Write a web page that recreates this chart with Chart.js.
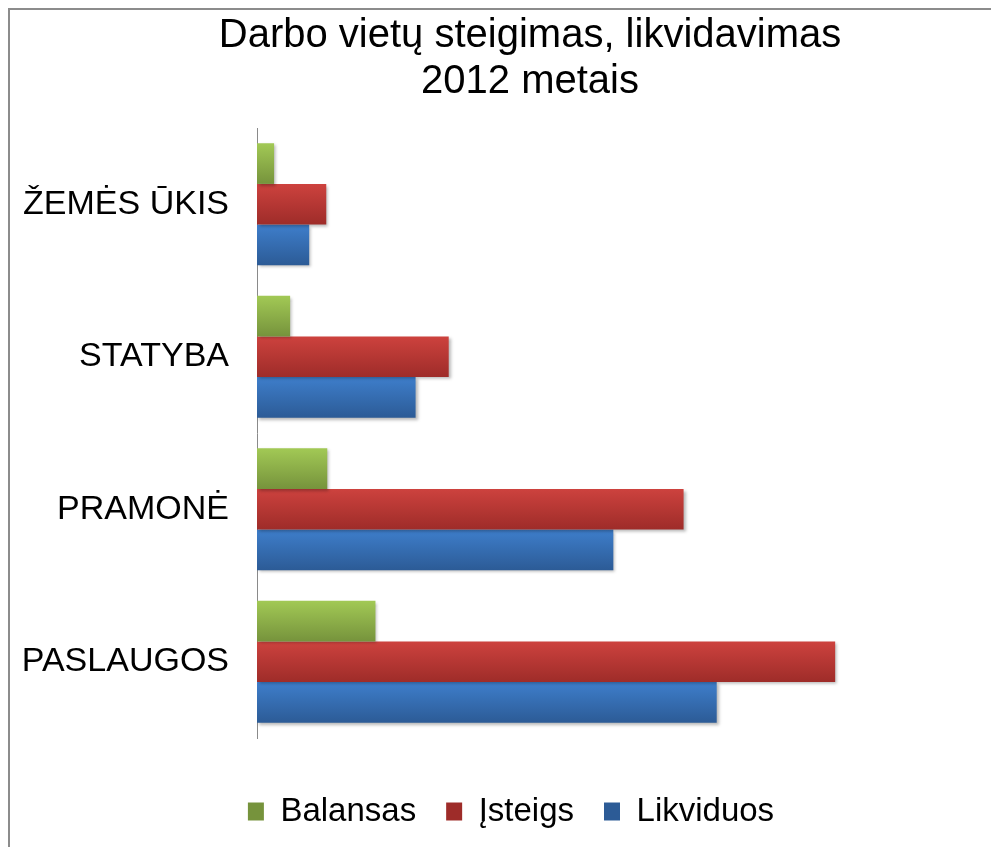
<!DOCTYPE html>
<html>
<head>
<meta charset="utf-8">
<script src="https://cdn.jsdelivr.net/npm/chart.js@4"></script>
<style>
  html, body { margin: 0; padding: 0; background: #fff; overflow: hidden; width: 991px; height: 847px; }
  #frame { position: absolute; left: 8px; top: 8px; width: 1200px; height: 1000px;
           border-left: 2px solid #8c8c8c; border-top: 2px solid #8c8c8c; }
  #wrap { position: absolute; left: 0; top: 0; width: 1060px; height: 847px; }
</style>
</head>
<body>
<div id="frame"></div>
<div id="wrap"><canvas id="c"></canvas></div>
<script>
const titleLines = ['Darbo vietų steigimas, likvidavimas', '2012 metais'];
const categories = ['ŽEMĖS ŪKIS', 'STATYBA', 'PRAMONĖ', 'PASLAUGOS'];
const seriesNames = ['Balansas', 'Įsteigs', 'Likviduos'];
const balansas  = [85, 165, 350, 590];
const isteigs   = [345, 955, 2125, 2880];
const likviduos = [260, 790, 1775, 2290];
const xMax = 4000;

const FONT = "'Liberation Sans', Arial, sans-serif";

function gradientFill(topColor, bottomColor, solid) {
  return function (c) {
    if (c.type !== 'data') return solid;
    const ch = c.chart;
    const ys = ch.scales.y;
    if (!ys || !ch.chartArea) return solid;
    const band = (ys.bottom - ys.top) / categories.length;
    const th = band * 0.8 / 3;
    const t = ys.getPixelForValue(c.dataIndex) - band * 0.4 + c.datasetIndex * th;
    const g = ch.ctx.createLinearGradient(0, t, 0, t + th);
    g.addColorStop(0, topColor);
    g.addColorStop(1, bottomColor);
    return g;
  };
}

const shadowPlugin = {
  id: 'barShadow',
  beforeDatasetsDraw(chart) {
    const ctx = chart.ctx;
    ctx.save();
    ctx.shadowColor = 'rgba(0,0,0,0.28)';
    ctx.shadowBlur = 3;
    ctx.shadowOffsetX = 2;
    ctx.shadowOffsetY = 2;
  },
  afterDatasetsDraw(chart) {
    chart.ctx.restore();
  }
};

const LEGEND_SHIFT = -19;
const legendShift = {
  id: 'legendShift',
  afterLayout(chart) {
    const lg = chart.legend;
    if (lg) { lg.left += LEGEND_SHIFT; lg.right += LEGEND_SHIFT; }
  }
};

new Chart(document.getElementById('c'), {
  type: 'bar',
  data: {
    labels: categories,
    datasets: [
      { label: seriesNames[0], data: balansas,
        backgroundColor: gradientFill('#a2c955', '#76933c', '#8cb048') },
      { label: seriesNames[1], data: isteigs,
        backgroundColor: gradientFill('#cd423e', '#9e2c29', '#bb3834') },
      { label: seriesNames[2], data: likviduos,
        backgroundColor: gradientFill('#3e7ecb', '#2c5b96', '#3669b0') }
    ]
  },
  options: {
    indexAxis: 'y',
    responsive: true,
    maintainAspectRatio: false,
    devicePixelRatio: 1,
    animation: false,
    layout: { padding: { top: 0, left: 0, right: 0, bottom: 9 } },
    datasets: { bar: { categoryPercentage: 0.8, barPercentage: 1.0, borderWidth: 0 } },
    scales: {
      x: { display: false, min: 0, max: xMax },
      y: {
        grid: { display: false, drawTicks: false },
        border: { display: true, color: '#8a8a8a', width: 1 },
        ticks: { color: '#000', padding: 28, font: { family: FONT, size: 34 } },
        afterFit(scale) { scale.width = 257; }
      }
    },
    plugins: {
      title: {
        display: true,
        text: titleLines,
        color: '#000',
        font: { family: FONT, size: 40, weight: 'normal', lineHeight: 1.15 },
        padding: { top: 13, bottom: 23 }
      },
      legend: {
        position: 'bottom',
        title: { display: true, text: '', font: { size: 10, lineHeight: 1.2 }, padding: { top: 0, bottom: 15 } },
        labels: {
          color: '#000',
          boxWidth: 16,
          boxHeight: 18,
          padding: 30,
          font: { family: FONT, size: 33 }
        }
      },
      tooltip: { enabled: false }
    }
  },
  plugins: [shadowPlugin, legendShift]
});
</script>
</body>
</html>
